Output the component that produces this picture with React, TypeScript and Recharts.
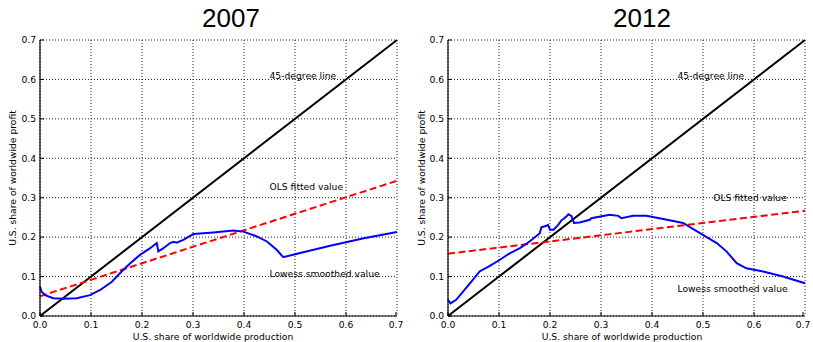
import React from "react";
import { LineChart, Line, XAxis, YAxis, CartesianGrid, ReferenceDot } from "recharts";

const axisTicks = [0, 0.1, 0.2, 0.3, 0.4, 0.5, 0.6, 0.7];

// 45-degree reference
const diagX = [0, 0.7];
const diagY = [0, 0.7];

// 2007
const ols2007X = [0, 0.7];
const ols2007Y = [0.05, 0.343];
const lowess2007X = [0, 0.003, 0.01, 0.026, 0.046, 0.072, 0.098, 0.118, 0.141, 0.16, 0.177, 0.196, 0.216, 0.229, 0.232, 0.242, 0.255, 0.262, 0.268, 0.281, 0.301, 0.34, 0.379, 0.399, 0.425, 0.445, 0.464, 0.477, 0.504, 0.569, 0.635, 0.7];
const lowess2007Y = [0.075, 0.062, 0.053, 0.045, 0.044, 0.045, 0.053, 0.066, 0.087, 0.113, 0.134, 0.155, 0.172, 0.185, 0.164, 0.172, 0.185, 0.188, 0.186, 0.193, 0.208, 0.212, 0.217, 0.214, 0.202, 0.189, 0.168, 0.149, 0.158, 0.178, 0.197, 0.213];

// 2012
const ols2012X = [0, 0.7];
const ols2012Y = [0.158, 0.267];
const lowess2012X = [0, 0.005, 0.016, 0.043, 0.062, 0.082, 0.101, 0.121, 0.141, 0.16, 0.18, 0.183, 0.193, 0.196, 0.2, 0.207, 0.216, 0.222, 0.232, 0.236, 0.242, 0.247, 0.258, 0.278, 0.281, 0.317, 0.334, 0.34, 0.363, 0.389, 0.422, 0.461, 0.494, 0.527, 0.546, 0.566, 0.585, 0.618, 0.657, 0.7];
const lowess2012Y = [0.041, 0.032, 0.041, 0.083, 0.113, 0.127, 0.142, 0.159, 0.172, 0.189, 0.21, 0.225, 0.229, 0.231, 0.219, 0.219, 0.231, 0.242, 0.252, 0.258, 0.254, 0.236, 0.237, 0.244, 0.248, 0.257, 0.254, 0.248, 0.254, 0.254, 0.246, 0.236, 0.21, 0.185, 0.164, 0.134, 0.121, 0.113, 0.1, 0.083];

const font = "'DejaVu Sans', sans-serif";
const fs = 9.2;

const zip = (xs: number[], ys: number[]) => xs.map((x, i) => ({ x, y: ys[i] }));

const XTick = (props: any) => {
  const { x, y, payload } = props;
  return (
    <g>
      <line x1={x} y1={y} x2={x} y2={y - 4} stroke="#000" />
      <text x={x} y={y + 11.5} textAnchor="middle" fontSize={fs} fontFamily={font} fill="#000">
        {payload.value.toFixed(1)}
      </text>
    </g>
  );
};

const YTick = (props: any) => {
  const { x, y, payload } = props;
  return (
    <g>
      <line x1={x} y1={y} x2={x + 4} y2={y} stroke="#000" />
      <text x={x - 4} y={y + 3.3} textAnchor="end" fontSize={fs} fontFamily={font} fill="#000">
        {payload.value.toFixed(1)}
      </text>
    </g>
  );
};

const note = (label: string) => (p: any) => (
  <text x={p.cx} y={p.cy} fontSize={fs} fontFamily={font} fill="#000">
    {label}
  </text>
);

interface PanelProps {
  width: number;
  yWidth: number;
  right: number;
  ols: { x: number; y: number }[];
  lowess: { x: number; y: number }[];
  olsAt: [number, number];
  lowessAt: [number, number];
}

const Panel = ({ width, yWidth, right, ols, lowess, olsAt, lowessAt }: PanelProps) => (
  <LineChart width={width} height={342} margin={{ top: 40, right, bottom: 0, left: 0 }}>
    <CartesianGrid stroke="#222" strokeDasharray="1 2" />
    <XAxis
      dataKey="x"
      type="number"
      domain={[0, 0.7]}
      ticks={axisTicks}
      height={26}
      tickSize={0}
      tickMargin={0}
      tick={<XTick />}
      axisLine={{ stroke: "#000", strokeWidth: 1.2 }}
      allowDuplicatedCategory={false}
    />
    <YAxis
      dataKey="y"
      type="number"
      domain={[0, 0.7]}
      ticks={axisTicks}
      width={yWidth}
      tickSize={0}
      tickMargin={0}
      tick={<YTick />}
      axisLine={{ stroke: "#000", strokeWidth: 1.2 }}
    />
    <Line data={zip(diagX, diagY)} dataKey="y" stroke="#000" strokeWidth={2} dot={false} isAnimationActive={false} />
    <Line data={ols} dataKey="y" stroke="#ff0000" strokeWidth={2} strokeDasharray="7 3.5" dot={false} isAnimationActive={false} />
    <Line data={lowess} dataKey="y" stroke="#0000ff" strokeWidth={2} dot={false} isAnimationActive={false} />
    <ReferenceDot x={0.45} y={0.6} r={0} ifOverflow="visible" shape={note("45-degree line")} />
    <ReferenceDot x={olsAt[0]} y={olsAt[1]} r={0} ifOverflow="visible" shape={note("OLS fitted value")} />
    <ReferenceDot x={lowessAt[0]} y={lowessAt[1]} r={0} ifOverflow="visible" shape={note("Lowess smoothed value")} />
  </LineChart>
);

export default function App() {
  return (
    <div style={{ position: "absolute", left: 0, top: 0, width: 813, height: 342, background: "#fff" }}>
      <div style={{ position: "absolute", left: 0, top: 0 }}>
        <Panel
          width={406}
          yWidth={40}
          right={9}
          ols={zip(ols2007X, ols2007Y)}
          lowess={zip(lowess2007X, lowess2007Y)}
          olsAt={[0.45, 0.32]}
          lowessAt={[0.45, 0.1]}
        />
      </div>
      <div style={{ position: "absolute", left: 406, top: 0 }}>
        <Panel
          width={407}
          yWidth={42}
          right={8}
          ols={zip(ols2012X, ols2012Y)}
          lowess={zip(lowess2012X, lowess2012Y)}
          olsAt={[0.52, 0.292]}
          lowessAt={[0.45, 0.06]}
        />
      </div>
      <svg width={813} height={342} style={{ position: "absolute", left: 0, top: 0, pointerEvents: "none" }}>
        <text x={231} y={27} textAnchor="middle" fontSize={26} fontFamily="'Liberation Sans', Arial, sans-serif">2007</text>
        <text x={642} y={27} textAnchor="middle" fontSize={26} fontFamily="'Liberation Sans', Arial, sans-serif">2012</text>
        <text x={213} y={339.5} textAnchor="middle" fontSize={fs} fontFamily={font}>U.S. share of worldwide production</text>
        <text x={622} y={339.5} textAnchor="middle" fontSize={fs} fontFamily={font}>U.S. share of worldwide production</text>
        <text transform="translate(15.5,178) rotate(-90)" textAnchor="middle" fontSize={fs} fontFamily={font}>U.S. share of worldwide profit</text>
        <text transform="translate(424.5,178) rotate(-90)" textAnchor="middle" fontSize={fs} fontFamily={font}>U.S. share of worldwide profit</text>
      </svg>
    </div>
  );
}
